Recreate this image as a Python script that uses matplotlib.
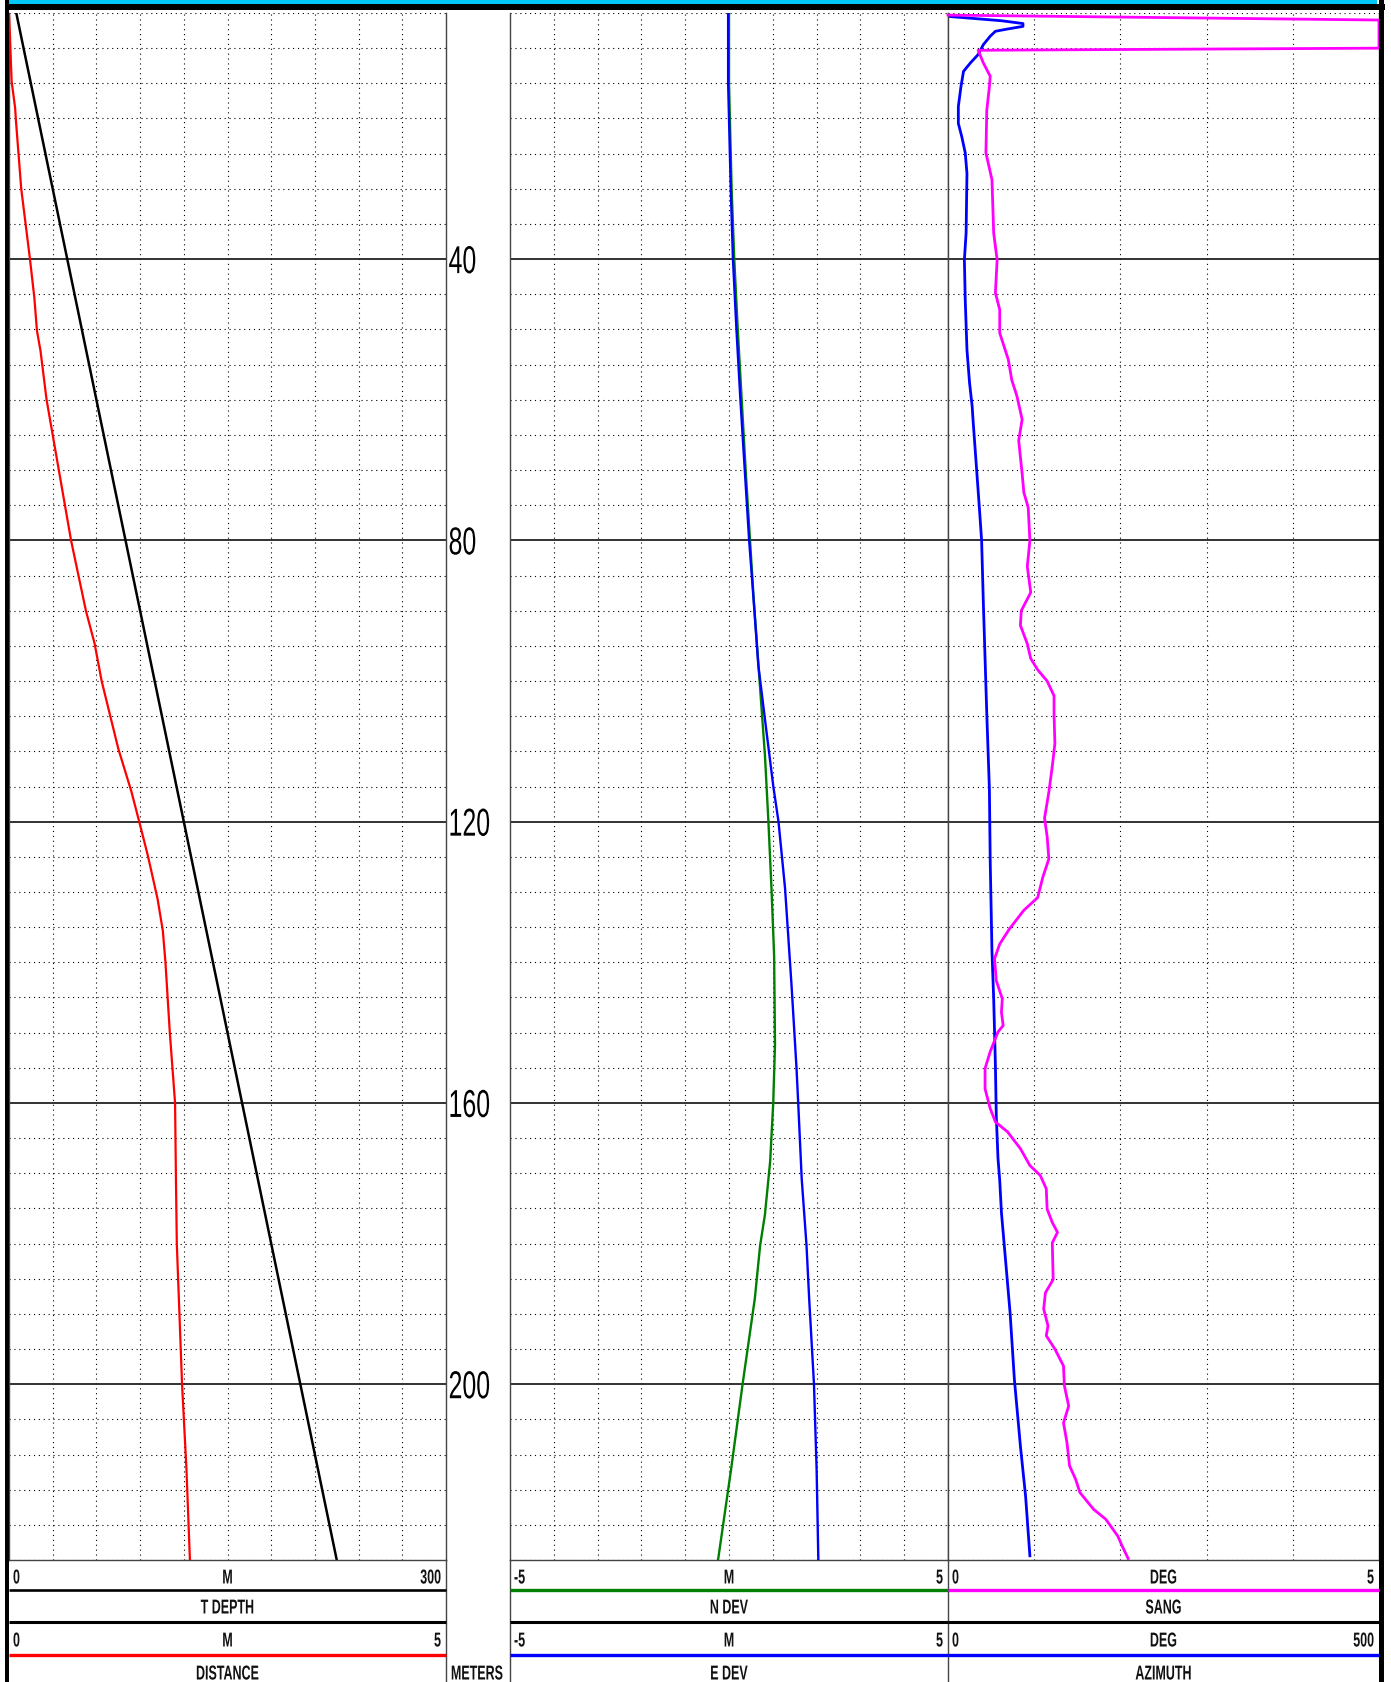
import matplotlib.pyplot as plt
from matplotlib.patches import Rectangle
from matplotlib.patheffects import AbstractPathEffect
from matplotlib.transforms import Affine2D
import numpy as np

plt.rcParams['font.family'] = ['Liberation Sans', 'DejaVu Sans']

W, H = 1391, 1683

# depth scale (metres)
depth_top, depth_bottom = 5, 225
depth_labels = [40, 80, 120, 160, 200]

# left track: T DEPTH (0-300 M) and DISTANCE (0-5 M)
tdepth_depth = [5, 225]
tdepth_val = [5, 225]
dist_depth = [5, 8, 14.7, 18.5, 20.4, 30, 40, 45.5, 50.2, 53, 60, 70, 80, 90, 94.7, 100,
              109.6, 115.7, 120, 124.9, 131, 135.5, 140, 150, 160, 170.8, 180, 190, 200, 212, 225]
dist_val = [0.0, 0.01, 0.03, 0.07, 0.08, 0.14, 0.24, 0.29, 0.32, 0.36, 0.43, 0.57, 0.71, 0.88, 0.98, 1.06,
            1.25, 1.40, 1.49, 1.59, 1.70, 1.76, 1.79, 1.84, 1.90, 1.91, 1.92, 1.95, 1.98, 2.03, 2.07]

# middle track: N DEV and E DEV (-5..5 M)
ndev_depth = [5, 15, 20, 30, 40, 50, 60, 70, 80, 88, 101, 110.5, 120, 129.5, 139, 151.7, 160,
              168.3, 175.9, 180.3, 187.8, 200, 212, 225]
ndev_val = [0.0, 0.0, 0.02, 0.06, 0.12, 0.2, 0.29, 0.38, 0.48, 0.56, 0.71, 0.82, 0.90, 0.97, 1.03, 1.05, 1.01,
            0.94, 0.82, 0.71, 0.59, 0.31, 0.05, -0.25]
edev_depth = [5, 15, 20, 30, 40, 50, 60, 70, 80, 88.3, 97.8, 105.4, 114.9, 120, 129.5, 143.5, 154.9,
              160, 170.8, 180.3, 187.8, 200, 212, 225]
edev_val = [-0.02, -0.02, 0.0, 0.04, 0.09, 0.17, 0.26, 0.36, 0.46, 0.56, 0.67, 0.82, 1.01, 1.13, 1.28, 1.43, 1.54,
            1.58, 1.66, 1.77, 1.83, 1.94, 2.0, 2.04]

# right track: SANG (0-5 DEG) and AZIMUTH (0-500 DEG)
sang_depth = [5.3, 6.0, 10.0, 10.3, 12.1, 14, 15.5, 18.8, 24.9, 28.7, 32.5, 36.3, 40.1, 44.8, 47.2, 50.5,
              54.3, 57.2, 59.5, 62.8, 65.8, 70.5, 73.2, 75.3, 80, 83.7, 87.4, 90, 92.1, 94.7, 96.8, 98.4,
              100, 102.1, 104.7, 108.9, 112.1, 115.8, 119.5, 122.1, 125.3, 127.9, 130.8, 132.6, 135.3,
              137.4, 139.5, 142.6, 145.2, 147.1, 149, 149.9, 152.7, 155.1, 158, 160.8, 162.7, 164.1,
              166.5, 168.9, 170.3, 172.2, 175.1, 177, 178.4, 179.9, 185.1, 187, 189.3, 191.7, 193.1,
              195, 197.4, 200.2, 203.1, 205.5, 208.3, 211.6, 213.5, 215.4, 217.8, 219.2, 221.6, 223, 224.8]
sang_val = [0.0, 5.0, 5.0, 0.35, 0.41, 0.49, 0.48, 0.45, 0.44, 0.51, 0.52, 0.53, 0.57, 0.55, 0.60, 0.60,
            0.70, 0.74, 0.80, 0.86, 0.82, 0.86, 0.88, 0.93, 0.95, 0.92, 0.96, 0.85, 0.84, 0.92, 0.96, 1.04,
            1.15, 1.23, 1.23, 1.24, 1.21, 1.17, 1.12, 1.15, 1.17, 1.10, 1.04, 0.88, 0.71,
            0.60, 0.54, 0.56, 0.63, 0.62, 0.64, 0.58, 0.49, 0.43, 0.43, 0.49, 0.55, 0.69,
            0.84, 0.95, 1.07, 1.14, 1.15, 1.21, 1.27, 1.21, 1.22, 1.13, 1.11, 1.16, 1.14,
            1.24, 1.34, 1.35, 1.40, 1.34, 1.38, 1.41, 1.48, 1.53, 1.69, 1.83, 1.97, 2.02, 2.09]
azi_depth = [5.5, 6.1, 6.5, 6.9, 7.3, 7.6, 8.3, 9.5, 10.9, 12.1, 13.3, 15.5, 18.3, 20.7, 22.6, 24.9, 27.8,
             36.3, 40.1, 45.8, 52.9, 57.6, 60.9, 62.8, 67.9, 74.7, 80, 88.9, 96.8, 104.7, 115.3, 125.8,
             138.4, 145.2, 154.6, 161.8, 167.9, 171, 175.6, 182.7, 189.8, 199.3, 208.8, 215.9, 224.4]
azi_val = [2, 62, 87, 87, 68, 55, 49, 41, 35, 26, 18, 15, 12, 12, 16, 20, 22,
           21, 19, 20, 22, 25, 28, 29, 32, 36, 39, 41, 43, 45, 48, 49,
           51, 53, 55, 56, 58, 60, 62, 67, 72, 77, 84, 90, 95]

# header text per track, first and second curve
track_names = [('T DEPTH', 'DISTANCE'), ('N DEV', 'E DEV'), ('SANG', 'AZIMUTH')]
track_scales = [(('0', 'M', '300'), ('0', 'M', '5')),
                (('-5', 'M', '5'), ('-5', 'M', '5')),
                (('0', 'DEG', '5'), ('0', 'DEG', '500'))]
track_colors = [('black', '#ff0000'), ('#008000', '#0000ff'), ('#ff00ff', '#0000ff')]
track_divs = [10, 10, 5]

# layout in pixels
track_x = [(9, 446), (510, 948), (948, 1379)]
plot_y0, plot_y1 = 14, 1561

fig = plt.figure(figsize=(W / 100, H / 100), dpi=100)


class Squeeze(AbstractPathEffect):
    # draws text narrower (condensed look) around its anchor point
    def __init__(self, sx):
        super().__init__()
        self.sx = sx
        self.text = None

    def draw_path(self, renderer, gc, tpath, affine, rgbFace=None):
        x0, _ = self.text.get_transform().transform(self.text.get_position())
        t = affine + Affine2D().translate(-x0, 0).scale(self.sx, 1).translate(x0, 0)
        renderer.draw_path(gc, tpath, t, rgbFace)


def narrow_text(ax, x, y, s, sx=0.64, **kw):
    t = ax.text(x, y, s, **kw)
    pe = Squeeze(sx)
    pe.text = t
    t.set_path_effects([pe])
    return t


def px_rect(x0, y0, x1, y1):
    return [x0 / W, 1 - y1 / H, (x1 - x0) / W, (y1 - y0) / H]


dots = (0, (1, 3.4))


def make_track(x0, x1, scale, ndiv):
    ax = fig.add_axes(px_rect(x0, plot_y0, x1, plot_y1))
    lo, hi = float(scale[0]), float(scale[2])
    ax.set_xlim(lo, hi)
    ax.set_ylim(depth_bottom, depth_top)
    ax.set_xticks(np.linspace(lo, hi, ndiv + 1)[1:-1])
    ax.set_yticks(depth_labels)
    ax.set_yticks(np.arange(depth_top, depth_bottom + 1, 5), minor=True)
    ax.tick_params(which='both', length=0, labelbottom=False, labelleft=False)
    ax.xaxis.grid(True, ls=dots, lw=0.8, color='black')
    ax.yaxis.grid(True, which='major', ls='-', lw=1.3, color='#222222')
    ax.yaxis.grid(True, which='minor', ls=dots, lw=0.8, color='black')
    ax.spines['top'].set_visible(False)
    for s in ('left', 'right', 'bottom'):
        ax.spines[s].set_color('#444444')
        ax.spines[s].set_linewidth(1.0)
    ax2 = ax.twiny()
    return ax, ax2


def finish_twin(ax2, scale):
    ax2.set_xlim(float(scale[0]), float(scale[2]))
    ax2.tick_params(length=0, labeltop=False, labelbottom=False)
    for s in ax2.spines.values():
        s.set_visible(False)


# left track
axL, axL2 = make_track(*track_x[0], track_scales[0][0], track_divs[0])
axL.plot(tdepth_val, tdepth_depth, color=track_colors[0][0], lw=1.8)
finish_twin(axL2, track_scales[0][1])
axL2.plot(dist_val, dist_depth, color=track_colors[0][1], lw=1.6)

# middle track
axM, axM2 = make_track(*track_x[1], track_scales[1][0], track_divs[1])
axM.plot(ndev_val, ndev_depth, color=track_colors[1][0], lw=1.7)
finish_twin(axM2, track_scales[1][1])
axM2.plot(edev_val, edev_depth, color=track_colors[1][1], lw=1.7)

# right track: azimuth on the main axis so the grid has 5 divisions, sang on top
axR, axR2 = make_track(*track_x[2], track_scales[2][1], track_divs[2])
axR.plot(azi_val, azi_depth, color=track_colors[2][1], lw=2.0)
finish_twin(axR2, track_scales[2][0])
axR2.plot(np.clip(sang_val, 0, 5), sang_depth, color=track_colors[2][0], lw=2.0, clip_on=False)

# depth column labels
axD = fig.add_axes(px_rect(446, plot_y0, 510, plot_y1), sharey=axL)
axD.axis('off')
for d in depth_labels:
    narrow_text(axD, 0.04, d, str(d), transform=axD.get_yaxis_transform(), fontsize=28,
                ha='left', va='center_baseline', color='black')

# frame, headers and decorations drawn in pixel space
ov = fig.add_axes([0, 0, 1, 1], zorder=10)
ov.set_xlim(0, W)
ov.set_ylim(H, 0)
ov.axis('off')
ov.patch.set_visible(False)

ov.add_patch(Rectangle((8, 0), 1369, 5, color='#00c8f8', lw=0))
ov.add_patch(Rectangle((5, 5), 1380, 6, color='black', lw=0))
ov.add_patch(Rectangle((5, 0), 4, H, color='black', lw=0))
ov.add_patch(Rectangle((1379, 0), 5, H, color='black', lw=0))

# vertical borders through the header area
for xb in (446, 510, 948):
    ov.plot([xb, xb], [plot_y1, H], color='#444444', lw=1.0)

row_scale = [1577, 1640]
row_line = [1591, 1656]
row_name = [1607, 1673]
sep_y = 1623
hdr = dict(fontsize=14.5, fontweight='bold', va='center_baseline', color='#111111', sx=0.62)

for i, (x0, x1) in enumerate(track_x):
    ov.plot([x0, x1], [sep_y, sep_y], color='black', lw=2.2, solid_capstyle='butt')
    for j in range(2):
        lo, unit, hi = track_scales[i][j]
        col = track_colors[i][j]
        lwc = 1.9 if col == 'black' else 2.4
        ov.plot([x0, x1], [row_line[j], row_line[j]], color=col, lw=lwc, solid_capstyle='butt')
        narrow_text(ov, x0 + 4, row_scale[j], lo, ha='left', **hdr)
        narrow_text(ov, (x0 + x1) / 2, row_scale[j], unit, ha='center', **hdr)
        narrow_text(ov, x1 - 5, row_scale[j], hi, ha='right', **hdr)
        narrow_text(ov, (x0 + x1) / 2, row_name[j], track_names[i][j], ha='center', **hdr)

narrow_text(ov, 477, 1673, 'METERS', ha='center', **hdr)

fig.savefig('out.png', dpi=100)
